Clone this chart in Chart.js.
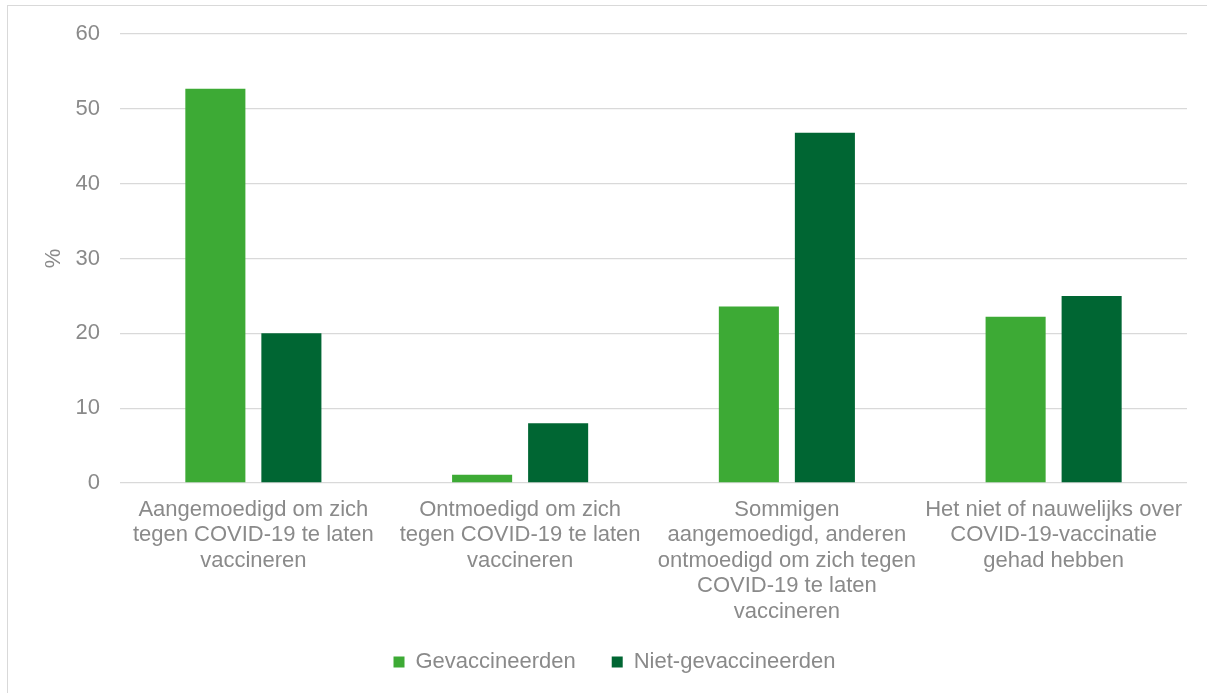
<!DOCTYPE html>
<html lang="nl">
<head>
<meta charset="utf-8">
<title>Gesprekken over COVID-19-vaccinatie</title>
<script src="https://cdn.jsdelivr.net/npm/chart.js@4/dist/chart.umd.min.js"></script>
<style>
  html, body { margin: 0; padding: 0; background: #fff; }
  #wrap { position: relative; width: 1207px; height: 693px; overflow: hidden; }
  #frame {
    position: absolute; left: 7px; top: 5px; width: 1300px; height: 800px;
    border-left: 1.5px solid #d9d9d9; border-top: 1.5px solid #d9d9d9;
  }
  canvas { position: absolute; left: 0; top: 0; }
</style>
</head>
<body>
<div id="wrap">
  <div id="frame"></div>
  <canvas id="myChart" width="1207" height="693"></canvas>
</div>
<script>
// categories (multi-line labels)
const categories = [
  ["Aangemoedigd om zich", "tegen COVID-19 te laten", "vaccineren"],
  ["Ontmoedigd om zich", "tegen COVID-19 te laten", "vaccineren"],
  ["Sommigen", "aangemoedigd, anderen", "ontmoedigd om zich tegen", "COVID-19 te laten", "vaccineren"],
  ["Het niet of nauwelijks over", "COVID-19-vaccinatie", "gehad hebben"],
];

// percentages per group
const gevaccineerden = [52.7, 1.1, 23.6, 22.2];
const nietGevaccineerden = [20.0, 8.0, 46.8, 25.0];

const yTicks = { min: 0, max: 60, step: 10 };

const lightGreen = "#3daa35";
const darkGreen = "#006633";
const textGray = "#8a8a8a";
const gridGray = "#d9d9d9";

Chart.defaults.font.family = "'Liberation Sans', Arial, sans-serif";
Chart.defaults.font.size = 22;
Chart.defaults.color = textGray;

// move the legend a little: right of centre and up towards the labels
const legendShift = {
  id: "legendShift",
  afterLayout(chart) {
    const lg = chart.legend;
    if (lg) {
      lg.left += 17;
      lg.right += 17;
      lg.top -= 10;
      lg.bottom -= 10;
    }
  },
};

const config = {
  type: "bar",
  data: {
    labels: categories,
    datasets: [
      {
        label: "Gevaccineerden",
        data: gevaccineerden,
        backgroundColor: lightGreen,
        categoryPercentage: 0.57,
        barPercentage: 0.79,
      },
      {
        label: "Niet-gevaccineerden",
        data: nietGevaccineerden,
        backgroundColor: darkGreen,
        categoryPercentage: 0.57,
        barPercentage: 0.79,
      },
    ],
  },
  options: {
    responsive: false,
    animation: false,
    layout: {
      padding: { left: 8, right: 20, top: 34, bottom: 0 },
    },
    plugins: {
      tooltip: { enabled: false },
      legend: {
        position: "bottom",
        maxHeight: 69,
        labels: {
          boxWidth: 11,
          boxHeight: 11,
          padding: 36,
          font: { size: 22, lineHeight: 1.16 },
          color: textGray,
        },
      },
    },
    scales: {
      x: {
        grid: { display: false, drawTicks: false },
        border: { display: false },
        ticks: {
          autoSkip: false,
          maxRotation: 0,
          minRotation: 0,
          padding: 14,
          font: { size: 22, lineHeight: 1.16 },
          color: textGray,
        },
        afterFit: (scale) => { scale.height = 142; },
      },
      y: {
        min: yTicks.min,
        max: yTicks.max,
        grid: { color: gridGray, lineWidth: 1.3, drawTicks: false },
        border: { display: false },
        ticks: {
          stepSize: yTicks.step,
          padding: 20,
          font: { size: 22 },
          color: textGray,
        },
        title: {
          display: true,
          text: "%",
          padding: { top: 33, bottom: 0 },
          font: { size: 22, lineHeight: 1.16 },
          color: textGray,
        },
        afterFit: (scale) => { scale.width = 112; },
      },
    },
  },
  plugins: [legendShift],
};

let myChart = new Chart(document.getElementById("myChart"), config);
</script>
</body>
</html>
